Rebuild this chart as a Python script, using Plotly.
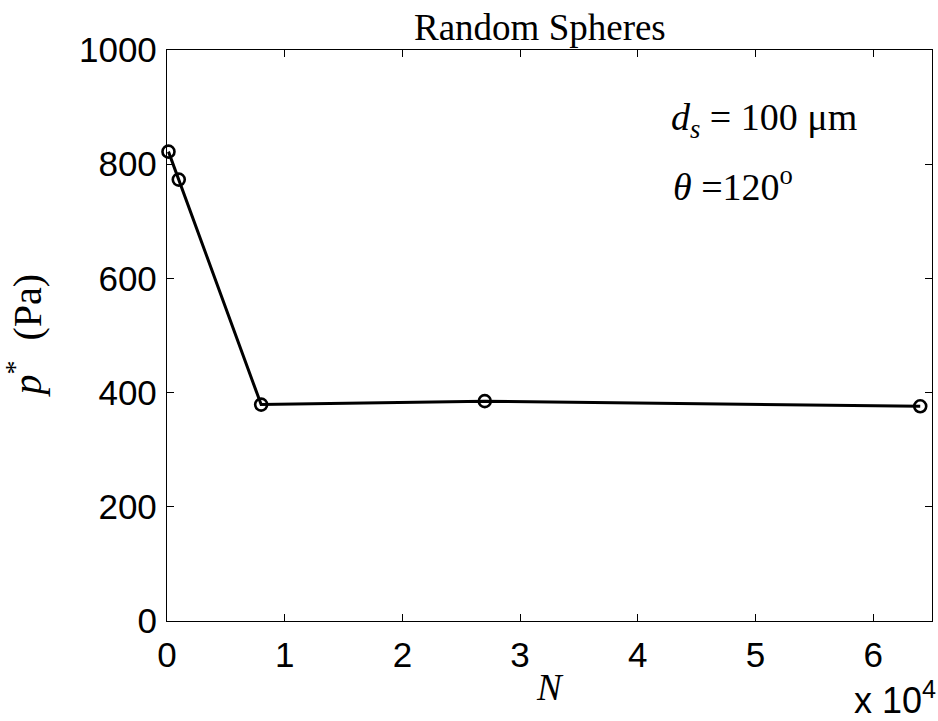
import plotly.graph_objects as go

# Number of spheres and the critical pressure at each
N = [125, 1000, 8000, 27000, 64000]
p_star = [822, 773, 379, 385, 376]

x_tick_vals = [0, 10000, 20000, 30000, 40000, 50000, 60000]
x_tick_text = ["0", "1", "2", "3", "4", "5", "6"]
y_tick_vals = [0, 200, 400, 600, 800, 1000]

serif = "Liberation Serif, Times New Roman, serif"
sans = "Liberation Sans, Arial, sans-serif"

fig = go.Figure()
fig.add_trace(go.Scatter(
    x=N, y=p_star, mode="lines+markers",
    line=dict(color="black", width=3),
    marker=dict(symbol="circle-open", size=12, color="black",
                line=dict(color="black", width=2.6)),
    showlegend=False, cliponaxis=False,
))

axis_common = dict(
    showgrid=False, zeroline=False, showline=True, linecolor="black",
    linewidth=1.3, mirror="allticks", ticks="inside", ticklen=7,
    tickcolor="black", tickwidth=1,
    tickfont=dict(family=sans, size=35, color="black"),
)

fig.update_layout(
    width=938, height=721,
    margin=dict(l=166.5, r=6, t=50, b=100),
    paper_bgcolor="white", plot_bgcolor="white",
    xaxis=dict(range=[0, 65000], tickvals=x_tick_vals, ticktext=x_tick_text,
               ticklabelstandoff=3, **axis_common),
    yaxis=dict(range=[0, 1000], tickvals=y_tick_vals, ticklabelstandoff=2,
               **axis_common),
    annotations=[
        dict(text="Random Spheres", x=0.5, y=1, xref="paper", yref="paper",
             xanchor="center", yanchor="bottom", xshift=-10, yshift=0,
             showarrow=False,
             font=dict(family=serif, size=37, color="black")),
        dict(text="<i>N</i>", x=0.5, y=0, xref="paper", yref="paper",
             xanchor="center", yanchor="top", yshift=-44, showarrow=False,
             font=dict(family=serif, size=37, color="black")),
        dict(text="<i>p</i><sup>*</sup>  (Pa)", x=0, y=0.5, xref="paper",
             yref="paper", xanchor="center", yanchor="middle", xshift=-142,
             textangle=-90, showarrow=False,
             font=dict(family=serif, size=40, color="black")),
        dict(text="x 10<sup>4</sup>", x=1, y=0, xref="paper", yref="paper",
             xanchor="right", yanchor="top", xshift=6, yshift=-52,
             showarrow=False, font=dict(family=sans, size=36, color="black")),
        dict(text="<i>d</i><sub><i>s</i></sub> = 100 μm", x=0.656, y=0.878,
             xref="paper", yref="paper", xanchor="left", yanchor="middle",
             showarrow=False, font=dict(family=serif, size=38, color="black")),
        dict(text="<i>θ</i> =120<sup>o</sup>", x=0.659, y=0.766,
             xref="paper", yref="paper", xanchor="left", yanchor="middle",
             showarrow=False, font=dict(family=serif, size=38, color="black")),
    ],
)

fig.write_html("out.html")
